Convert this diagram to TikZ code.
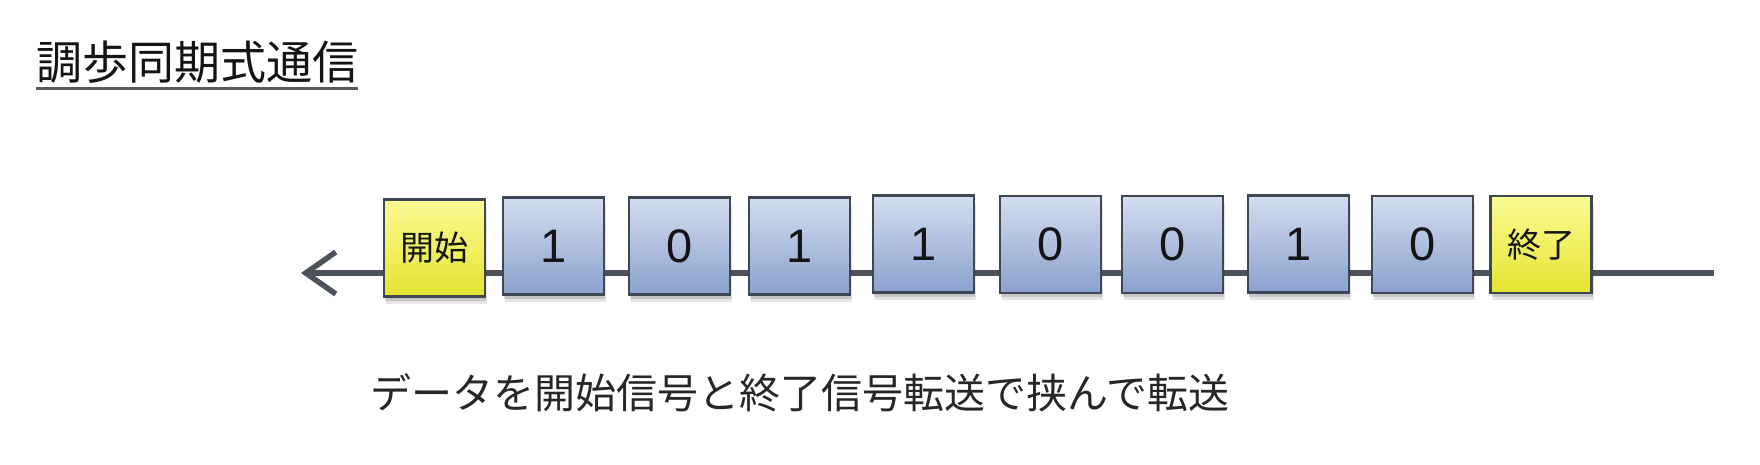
\documentclass[tikz,border=0pt]{standalone}
\usepackage{fontspec}
\setmainfont{Liberation Sans}
\newfontfamily\jp{Noto Sans CJK JP}
\usetikzlibrary{arrows.meta,shadows}
\definecolor{bluetop}{HTML}{D4DDEF}
\definecolor{bluebot}{HTML}{8AA1CE}
\definecolor{yeltop}{HTML}{FBFB95}
\definecolor{yelbot}{HTML}{E4E430}
\definecolor{boxedge}{HTML}{3F4656}
\definecolor{linec}{HTML}{4C525C}
\definecolor{textdark}{HTML}{141414}
\begin{document}
\begin{tikzpicture}[x=1pt,y=-1pt,
  cell/.style={draw=boxedge, line width=2.6pt, minimum width=101pt, minimum height=97pt,
    inner sep=0pt, text=textdark,
    drop shadow={shadow xshift=2pt, shadow yshift=-7pt, opacity=0.10, fill=black},
    drop shadow={shadow xshift=1pt, shadow yshift=-4pt, opacity=0.14, fill=black}},
  bit/.style={cell, top color=bluetop, bottom color=bluebot,
    font=\fontsize{47}{47}\selectfont},
  sig/.style={cell, top color=yeltop, bottom color=yelbot,
    font=\jp\fontsize{34}{34}\selectfont},
  wire/.style={line width=5.5pt, draw=linec}]
\useasboundingbox (0,0) rectangle (1760,464);

% title
\node[anchor=west, inner sep=0pt, text=textdark, font=\jp\fontsize{46}{46}\selectfont]
  (title) at (36,62) {調歩同期式通信};
\coordinate (ul) at (0,88);
\draw[line width=3pt, draw=black!65] (title.west |- ul) -- (title.east |- ul);

% transmission line
\coordinate (tip) at (301,273);
\coordinate (end) at (1714,273);
\draw[wire, -{Straight Barb[length=30pt,width=42pt]}] (end) -- (tip);

% frames
\node[sig] (start) at (434.5,248) {\raisebox{-14pt}{開始}};
\node[bit] (b1) at (553.5,246) {\raisebox{-8pt}{1}};
\node[bit] (b2) at (679.5,246) {\raisebox{-8pt}{0}};
\node[bit] (b3) at (799.5,246) {\raisebox{-8pt}{1}};
\node[bit] (b4) at (923.5,244) {\raisebox{-8pt}{1}};
\node[bit] (b5) at (1050.5,244.5) {\raisebox{-8pt}{0}};
\node[bit] (b6) at (1172.5,244.5) {\raisebox{-8pt}{0}};
\node[bit] (b7) at (1298.5,244) {\raisebox{-8pt}{1}};
\node[bit] (b8) at (1422.5,244.5) {\raisebox{-8pt}{0}};
\node[sig] (stop) at (1541,244.5) {\raisebox{-10pt}{終了}};

% caption
\node[anchor=west, inner sep=0pt, text=black!85, font=\jp\fontsize{41}{41}\selectfont]
  (caption) at (370,393) {データを開始信号と終了信号転送で挟んで転送};
\end{tikzpicture}
\end{document}
